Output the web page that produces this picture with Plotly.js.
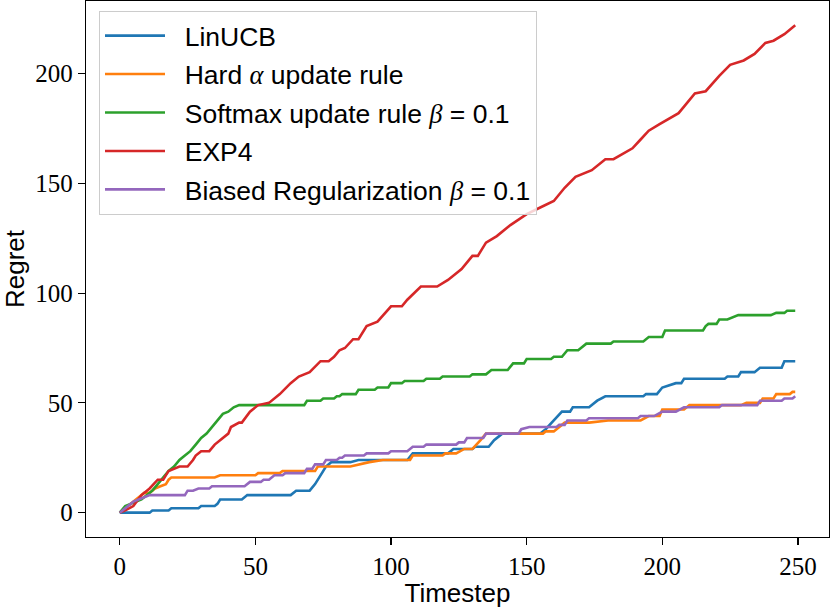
<!DOCTYPE html>
<html>
<head>
<meta charset="utf-8">
<script src="https://cdn.plot.ly/plotly-3.0.1.min.js"></script>
<style>html,body{margin:0;padding:0;background:#fff;}#chart{width:830px;height:608px;}</style>
</head>
<body>
<div id="chart"></div>
<script>
// Series names
const seriesNames = [
  "LinUCB",
  "Hard <span style=\"font-family:'Liberation Serif'\"><i>α</i></span> update rule",
  "Softmax update rule <span style=\"font-family:'Liberation Serif'\"><i>β</i></span> = 0.1",
  "EXP4",
  "Biased Regularization <span style=\"font-family:'Liberation Serif'\"><i>β</i></span> = 0.1"
];
const seriesColors = ["#1f77b4", "#ff7f0e", "#2ca02c", "#d62728", "#9467bd"];

// LinUCB (timestep, regret)
const linucbX = [0, 11, 12, 18, 19, 29, 30, 35, 36, 37, 45, 47, 63, 65, 70, 72, 74, 76, 78, 85, 88, 90, 106, 108, 121, 123, 130, 131, 136, 138, 141, 155, 157, 160, 163, 166, 167, 173, 176, 179, 193, 194, 198, 200, 205, 207, 208, 223, 224, 228, 229, 234, 236, 244, 245, 249];
const linucbY = [0, 0, 1, 1, 2, 2, 3, 3, 4, 6, 6, 8, 8, 10, 10, 13, 17, 21, 23, 23, 24, 24, 24, 27, 27, 29, 29, 30, 30, 33, 36, 36, 38, 42, 46, 46, 48, 48, 51, 53, 53, 54, 54, 57, 59, 59, 61, 61, 62, 62, 64, 64, 66, 66, 69, 69];

// Hard alpha update rule
const hardX = [0, 3, 5, 7, 9, 11, 13, 15, 17, 18, 19, 35, 37, 50, 51, 59, 60, 72, 73, 85, 88, 92, 97, 107, 108, 119, 120, 124, 127, 130, 133, 135, 156, 157, 160, 162, 164, 173, 180, 192, 195, 199, 200, 208, 210, 229, 231, 236, 237, 241, 242, 247, 248, 249];
const hardY = [0, 3, 5, 7, 9, 9, 11, 12, 13, 15, 16, 16, 17, 17, 18, 18, 19, 19, 21, 21, 22, 23, 24, 24, 26, 26, 27, 27, 29, 29, 33, 36, 36, 37, 37, 39, 41, 41, 42, 42, 44, 44, 47, 47, 49, 49, 50, 50, 52, 52, 54, 54, 55, 55];

// Softmax update rule beta = 0.1
const softX = [0, 2, 4, 6, 8, 10, 12, 14, 16, 18, 20, 22, 24, 26, 28, 30, 32, 34, 36, 38, 40, 42, 44, 68, 69, 74, 75, 79, 80, 81, 82, 87, 88, 94, 95, 99, 100, 104, 105, 112, 113, 118, 119, 129, 130, 135, 137, 143, 145, 149, 150, 159, 160, 163, 165, 169, 172, 181, 182, 193, 195, 200, 201, 215, 216, 217, 220, 221, 224, 228, 240, 242, 245, 246, 249];
const softY = [0, 3, 4, 5, 6, 8, 10, 13, 16, 19, 21, 24, 26, 28, 31, 34, 36, 39, 42, 45, 46, 48, 49, 49, 51, 51, 52, 52, 53, 53, 54, 54, 56, 56, 57, 57, 59, 59, 60, 60, 61, 61, 62, 62, 63, 63, 65, 65, 68, 68, 70, 70, 71, 71, 74, 74, 77, 77, 78, 78, 80, 80, 83, 83, 85, 86, 86, 88, 88, 90, 90, 91, 91, 92, 92];

// EXP4
const exp4X = [0, 2, 5, 8, 11, 14, 16, 17, 18, 22, 25, 27, 28, 30, 33, 35, 40, 41, 44, 45, 48, 51, 55, 59, 63, 66, 70, 74, 77, 79, 81, 83, 86, 88, 91, 95, 97, 100, 104, 106, 111, 117, 121, 126, 130, 132, 135, 139, 144, 150, 155, 160, 164, 168, 174, 176, 179, 182, 185, 189, 192, 195, 199, 203, 206, 208, 212, 216, 221, 225, 230, 234, 238, 241, 245, 249];
const exp4Y = [0, 1, 3, 8, 11, 15, 15, 17, 19, 21, 21, 24, 26, 28, 28, 31, 36, 39, 41, 41, 46, 49, 50, 54, 59, 62, 64, 69, 69, 71, 74, 75, 79, 79, 85, 87, 90, 94, 94, 97, 103, 103, 106, 111, 117, 117, 123, 126, 131, 136, 139, 142, 148, 153, 156, 158, 161, 161, 163, 166, 170, 174, 177, 180, 182, 185, 191, 192, 199, 204, 206, 209, 214, 215, 218, 222];

// Biased Regularization beta = 0.1
const biasX = [0, 2, 5, 9, 11, 24, 25, 27, 29, 33, 34, 46, 48, 52, 53, 55, 57, 60, 61, 68, 69, 71, 72, 75, 76, 80, 81, 82, 83, 90, 91, 99, 100, 106, 108, 112, 113, 124, 125, 127, 128, 134, 135, 147, 148, 151, 161, 162, 164, 165, 172, 173, 191, 192, 197, 200, 205, 208, 221, 222, 235, 236, 244, 245, 248, 249];
const biasY = [0, 2, 5, 7, 8, 8, 10, 10, 11, 11, 12, 12, 14, 14, 15, 15, 17, 17, 18, 18, 20, 20, 22, 22, 24, 24, 25, 25, 26, 26, 27, 27, 28, 28, 30, 30, 31, 31, 32, 32, 34, 34, 36, 36, 38, 39, 39, 40, 40, 42, 42, 43, 43, 44, 44, 46, 46, 48, 48, 49, 49, 51, 51, 52, 52, 53];

const xTicks = [0, 50, 100, 150, 200, 250];
const yTicks = [0, 50, 100, 150, 200];

const xs = [linucbX, hardX, softX, exp4X, biasX];
const ys = [linucbY, hardY, softY, exp4Y, biasY];

const traces = xs.map((x, i) => ({
  x: x, y: ys[i], type: 'scatter', mode: 'lines',
  name: '\u00a0\u00a0' + seriesNames[i], legendgroup: 'g' + i,
  line: {color: seriesColors[i], width: 2.6}
}));

const tickFont = {family: "'Liberation Serif', 'DejaVu Serif', serif", size: 25, color: '#000'};
const titleFont = {family: "'Liberation Sans', Arial, sans-serif", size: 26, color: '#000'};

const layout = {
  width: 830, height: 608,
  margin: {l: 86, r: 1, t: 1, b: 71, pad: 0},
  paper_bgcolor: '#fff', plot_bgcolor: '#fff',
  showlegend: true,
  legend: {
    x: 0.0175, y: 0.9816, xanchor: 'left', yanchor: 'top',
    bgcolor: 'rgba(255,255,255,0.8)', bordercolor: '#cccccc', borderwidth: 1,
    font: {family: "'Liberation Sans', Arial, sans-serif", size: 26.5, color: '#000'},
    itemwidth: 60, tracegroupgap: 1
  },
  xaxis: {
    range: [-12.45, 261.45], tickvals: xTicks, ticktext: xTicks.map(String),
    showgrid: false, zeroline: false, showline: true, linecolor: '#000', linewidth: 1.2, mirror: true,
    ticks: 'outside', ticklen: 7, tickwidth: 1.2, tickcolor: '#000', tickfont: tickFont,
    title: {text: 'Timestep', font: titleFont, standoff: 7}
  },
  yaxis: {
    range: [-11.1, 233.1], tickvals: yTicks, ticktext: yTicks.map(String),
    showgrid: false, zeroline: false, showline: true, linecolor: '#000', linewidth: 1.2, mirror: true,
    ticks: 'outside', ticklen: 7, tickwidth: 1.2, tickcolor: '#000', tickfont: tickFont,
    title: {text: 'Regret', font: titleFont, standoff: 8}
  }
};

Plotly.newPlot('chart', traces, layout, {staticPlot: true, displayModeBar: false});
</script>
</body>
</html>
